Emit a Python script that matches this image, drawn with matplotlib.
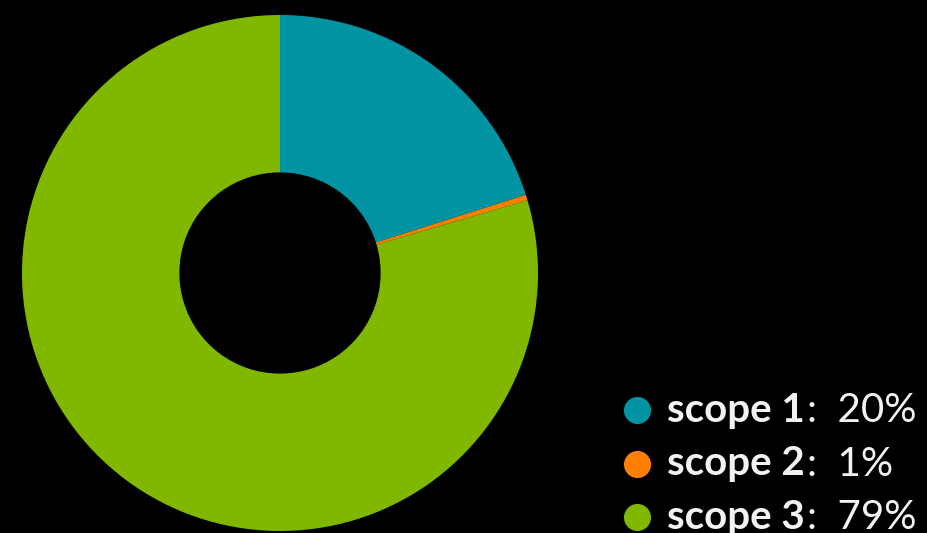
import matplotlib
matplotlib.use('Agg')
import matplotlib.pyplot as plt

labels = ['scope 1', 'scope 2', 'scope 3']
shares = [20.1, 0.35, 79.55]
share_labels = ['20%', '1%', '79%']
colors = ['#0094a3', '#ff8000', '#80b800']

W, H = 927, 533
fig = plt.figure(figsize=(W / 100, H / 100), dpi=100, facecolor='black')

# donut: centre (280, 273) px, outer radius 258 px
cx, cy, r = 280, 273, 258
ax = fig.add_axes([(cx - r) / W, (H - cy - r) / H, 2 * r / W, 2 * r / H])
ax.set_facecolor('black')
ax.pie(shares, colors=colors, startangle=90, counterclock=False, radius=1,
       wedgeprops=dict(width=0.61, linewidth=0))
ax.set_xlim(-1, 1)
ax.set_ylim(-1, 1)
ax.set_aspect('equal')
ax.axis('off')

# legend drawn by hand (bold name + regular value)
lax = fig.add_axes([0, 0, 1, 1])
lax.set_xlim(0, W)
lax.set_ylim(H, 0)
lax.axis('off')
lax.patch.set_alpha(0)

fs = 29
renderer = fig.canvas.get_renderer()
for i, (name, val, col) in enumerate(zip(labels, share_labels, colors)):
    y = 410 + i * 53.5
    lax.plot(637, y, 'o', color=col, markersize=19.5, markeredgewidth=0)
    t = lax.text(667, y + 12, name, color='#f2f2f2', fontsize=fs,
                 fontfamily='Lato', fontweight='bold', va='baseline')
    bb = t.get_window_extent(renderer)
    lax.text(bb.x1 + 2, H - (y + 12), ':  ' + val, color='#f2f2f2', fontsize=fs,
             fontfamily='Lato', fontweight='normal', va='baseline',
             transform=None)

fig.savefig('out.png', dpi=100, facecolor='black')
